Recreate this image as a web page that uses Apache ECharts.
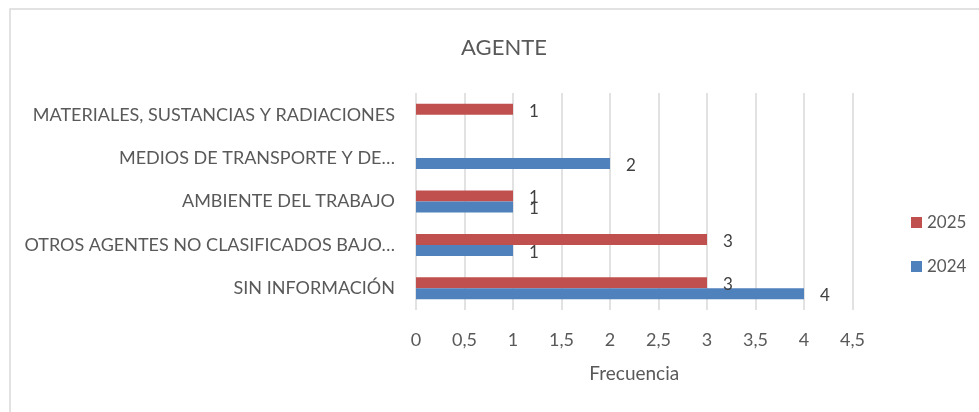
<!DOCTYPE html>
<html>
<head>
<meta charset="utf-8">
<script src="https://cdn.jsdelivr.net/npm/echarts@6/dist/echarts.min.js"></script>
<style>
  html, body { margin: 0; padding: 0; background: #fff; }
  #chart { width: 979px; height: 412px; }
</style>
</head>
<body>
<div id="chart"></div>
<script>
// categories listed bottom to top (y category axis grows upward)
const categories = [
  'SIN INFORMACIÓN',
  'OTROS AGENTES NO CLASIFICADOS BAJO…',
  'AMBIENTE DEL TRABAJO',
  'MEDIOS DE TRANSPORTE Y DE…',
  'MATERIALES, SUSTANCIAS Y RADIACIONES'
];
const values2024 = [4, 1, 1, 2, null];
const values2025 = [3, 3, 1, null, 1];
const xTicks = [0, 0.5, 1, 1.5, 2, 2.5, 3, 3.5, 4, 4.5];

const FONT = 'Lato';
const GREY = '#595959';

let myc = echarts.init(document.getElementById('chart'));

function barLabel() {
    return {
        show: true,
        position: 'right',
        distance: 16,
        offset: [0, 2],
        color: '#404040',
        fontFamily: FONT,
        fontSize: 17
    };
}

let options = {
    animation: false,
    graphic: [
        {
            type: 'rect',
            shape: { x: 10, y: 9, width: 1000, height: 410 },
            style: { fill: 'none', stroke: '#d9d9d9', lineWidth: 1.5 },
            silent: true
        }
    ],
    title: {
        text: 'AGENTE',
        left: 499,
        top: 32,
        textAlign: 'center',
        textStyle: { color: GREY, fontFamily: FONT, fontSize: 22, fontWeight: 'normal' }
    },
    legend: {
        orient: 'vertical',
        left: 906,
        top: 209,
        itemWidth: 11,
        itemHeight: 11,
        itemGap: 27,
        icon: 'rect',
        data: ['2025', '2024'],
        textStyle: { color: GREY, fontFamily: FONT, fontSize: 17 }
    },
    grid: {
        left: 416,
        top: 93,
        width: 436.5,
        height: 217
    },
    xAxis: {
        type: 'value',
        min: 0,
        max: 4.5,
        interval: 0.5,
        name: 'Frecuencia',
        nameLocation: 'middle',
        nameGap: 54,
        nameTextStyle: { color: GREY, fontFamily: FONT, fontSize: 19 },
        axisLine: { show: false },
        axisTick: { show: false },
        axisLabel: {
            color: GREY,
            fontFamily: FONT,
            fontSize: 18,
            margin: 21,
            formatter: function (v) {
                let t = xTicks.find(x => Math.abs(x - v) < 1e-9);
                return String(t === undefined ? v : t).replace('.', ',');
            }
        },
        splitLine: { lineStyle: { color: '#d9d9d9', width: 1.5 } }
    },
    yAxis: {
        type: 'category',
        data: categories,
        axisLine: { show: false },
        axisTick: { show: false },
        axisLabel: { color: GREY, fontFamily: FONT, fontSize: 18, margin: 21 }
    },
    series: [
        {
            name: '2025',
            type: 'bar',
            data: values2025,
            barWidth: 11,
            barGap: '0%',
            itemStyle: { color: '#C0504D' },
            label: barLabel()
        },
        {
            name: '2024',
            type: 'bar',
            data: values2024,
            barWidth: 11,
            barGap: '0%',
            itemStyle: { color: '#4F81BD' },
            label: barLabel()
        }
    ]
};
myc.setOption(options);
</script>
</body>
</html>
